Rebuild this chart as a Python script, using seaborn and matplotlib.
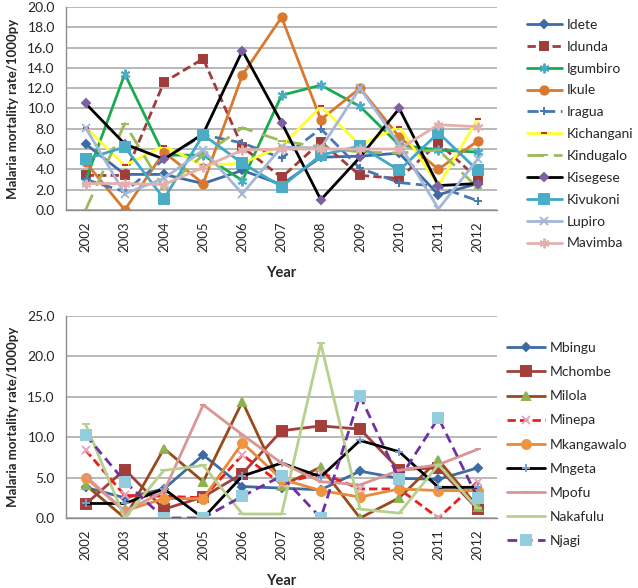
import matplotlib
matplotlib.use("Agg")
import matplotlib.pyplot as plt
import seaborn as sns
from matplotlib.ticker import FixedLocator, FormatStrFormatter

YEARS = list(range(2002, 2013))
YEAR_LABELS = [str(y) for y in YEARS]

# ---- top panel data (deaths / 1000 person-years) ----
TOP_NAMES = ["Idete", "Idunda", "Igumbiro", "Ikule", "Iragua", "Kichangani",
             "Kindugalo", "Kisegese", "Kivukoni", "Lupiro", "Mavimba"]
idete      = [6.5, 3.5, 3.5, 2.6, 3.9, 2.5, 5.2, 5.3, 5.6, 1.5, 2.6]
idunda     = [3.4, 3.4, 12.6, 14.9, 6.2, 3.2, 6.7, 3.4, 3.1, 6.6, 3.1]
igumbiro   = [2.9, 13.4, 5.4, 5.4, 2.9, 11.3, 12.3, 10.2, 6.4, 5.9, 5.7]
ikule      = [4.7, 0.0, 5.7, 2.6, 13.3, 19.0, 8.9, 12.0, 7.2, 4.0, 6.8]
iragua     = [3.0, 1.8, 5.0, 7.4, 6.6, 5.1, 8.0, 4.1, 2.7, 2.3, 0.9]
kichangani = [8.1, 4.4, 6.3, 4.4, 4.6, 6.3, 10.2, 6.4, 8.2, 2.4, 9.0]
kindugalo  = [0.0, 8.5, 2.1, 5.4, 8.1, 6.8, 6.2, 5.7, 5.6, 5.9, 2.2]
kisegese   = [10.5, 6.5, 5.0, 7.5, 15.7, 8.6, 1.0, 5.2, 10.0, 2.4, 2.6]
kivukoni   = [5.0, 6.2, 1.1, 7.4, 4.6, 2.3, 5.4, 6.3, 3.9, 7.6, 3.9]
lupiro     = [8.1, 1.6, 3.1, 5.9, 1.6, 6.2, 6.1, 12.0, 6.5, 0.1, 5.0]
mavimba    = [2.6, 2.6, 2.5, 4.2, 5.9, 6.0, 6.0, 6.0, 6.0, 8.4, 8.2]
TOP_VALUES = [idete, idunda, igumbiro, ikule, iragua, kichangani,
              kindugalo, kisegese, kivukoni, lupiro, mavimba]

# ---- bottom panel data ----
BOTTOM_NAMES = ["Mbingu", "Mchombe", "Milola", "Minepa", "Mkangawalo",
                "Mngeta", "Mpofu", "Nakafulu", "Njagi"]
mbingu     = [3.8, 2.5, 3.6, 7.8, 3.9, 3.7, 3.5, 5.8, 4.9, 4.8, 6.2]
mchombe    = [1.7, 6.0, 1.1, 2.6, 5.5, 10.8, 11.4, 11.0, 6.0, 6.2, 1.1]
milola     = [4.1, 0.0, 8.6, 4.5, 14.4, 4.0, 6.3, 0.0, 2.5, 7.2, 1.4]
minepa     = [8.4, 2.8, 2.7, 2.5, 7.8, 4.2, 5.6, 3.6, 3.6, 0.0, 4.5]
mkangawalo = [5.0, 0.9, 2.4, 2.4, 9.3, 4.8, 3.4, 2.6, 3.6, 3.4, 3.4]
mngeta     = [1.8, 1.8, 3.6, 0.0, 5.2, 6.8, 5.1, 9.6, 8.2, 3.8, 3.8]
mpofu      = [5.2, 0.8, 3.3, 14.0, 10.3, 6.8, 4.5, 4.1, 5.9, 6.6, 8.5]
nakafulu   = [11.6, 0.0, 5.9, 6.5, 0.5, 0.5, 21.6, 1.1, 0.6, 6.6, 1.2]
njagi      = [10.3, 4.5, 0.0, 0.0, 2.7, 5.2, 0.0, 15.1, 4.8, 12.4, 2.5]
BOTTOM_VALUES = [mbingu, mchombe, milola, minepa, mkangawalo,
                 mngeta, mpofu, nakafulu, njagi]

# line colour, line style, marker, marker face, marker edge, marker size
TOP_STYLES = [
    ("#3F6BA5", "-",              "D", "#3F6BA5", "#3F6BA5", 4),
    ("#A03C3A", (0, (3, 1.5)),    "s", "#A03C3A", "#A03C3A", 5.5),
    ("#1AAA50", "-",              (6, 2, 0), "#4BACC6", "#4BACC6", 7),
    ("#D9792F", "-",              "o", "#D9792F", "#D9792F", 6),
    ("#4878B4", (0, (4, 2)),      "+", "#4878B4", "#4878B4", 6),
    ("#FFFF33", "-",              "_", "#C0302C", "#C0302C", 5),
    ("#9BBB59", (0, (6, 3.5)),    "_", "#9BBB59", "#9BBB59", 6),
    ("#000000", "-",              "D", "#7D60A0", "#7D60A0", 4.5),
    ("#3FA8C8", "-",              "s", "#4BACC6", "#4BACC6", 6.5),
    ("#A3B7D6", "-",              "x", "#A3B7D6", "#A3B7D6", 6),
    ("#E3B0AE", "-",              (6, 2, 0), "#E3B0AE", "#E3B0AE", 7),
]
BOTTOM_STYLES = [
    ("#3F6BA5", "-",              "D", "#3F6BA5", "#3F6BA5", 4.5),
    ("#A33E3B", "-",              "s", "#A33E3B", "#A33E3B", 6.5),
    ("#984A1A", "-",              "^", "#8DB350", "#8DB350", 6),
    ("#E8201C", (0, (3, 1.5)),    "x", "#E3A7C0", "#E3A7C0", 5.5),
    ("#E68A3E", "-",              "o", "#F0953F", "#F0953F", 6.5),
    ("#000000", "-",              "+", "#7A9ED0", "#7A9ED0", 6),
    ("#D99694", "-",              "_", "#D99694", "#D99694", 4),
    ("#B7D08E", "-",              "_", "#B7D08E", "#B7D08E", 6),
    ("#7030A0", (0, (3.5, 2)),    "s", "#93CDDD", "#93CDDD", 6.5),
]

sns.set_theme(style="white")
plt.rcParams["font.family"] = ["Lato", "DejaVu Sans"]

GRID = "#A6A6A6"
AXIS = "#8C8C8C"


def draw_panel(ax, names, values, styles, ymax, ystep):
    for name, vals, st in zip(names, values, styles):
        color, ls, marker, mfc, mec, ms = st
        sns.lineplot(x=YEARS, y=vals, ax=ax, label=name, color=color,
                     linestyle=ls, linewidth=2.0, marker=marker,
                     markersize=ms, markerfacecolor=mfc,
                     markeredgecolor=mec, markeredgewidth=1.4, sort=False)
    ax.set_xlim(2001.5, 2012.5)
    ax.set_ylim(0, ymax)
    ax.set_yticks([i * ystep for i in range(int(round(ymax / ystep)) + 1)])
    ax.yaxis.set_major_formatter(FormatStrFormatter("%.1f"))
    ax.set_xticks(YEARS)
    ax.set_xticklabels(YEAR_LABELS, rotation=90)
    ax.xaxis.set_minor_locator(FixedLocator([y + 0.5 for y in range(2001, 2013)]))
    ax.tick_params(axis="x", which="major", length=0, pad=8, labelsize=9.5)
    ax.tick_params(axis="x", which="minor", length=4, width=1, color=AXIS,
                   direction="out")
    ax.tick_params(axis="y", length=4, width=1, color=GRID, direction="out",
                   labelsize=10, pad=4)
    ax.yaxis.grid(True, color=GRID, linewidth=1.1)
    ax.set_axisbelow(True)
    for side in ["top", "right"]:
        ax.spines[side].set_visible(False)
    for side in ["left", "bottom"]:
        ax.spines[side].set_color(AXIS)
        ax.spines[side].set_linewidth(1.0)
    ax.set_xlabel("Year", fontsize=10.5, fontweight="bold", labelpad=10)
    ax.set_ylabel("Malaria mortality rate/1000py", fontsize=9.5,
                  fontweight="bold", labelpad=6)


fig = plt.figure(figsize=(6.38, 5.88), dpi=100)
ax_top = fig.add_axes([0.1034, 0.643, 0.676, 0.345])
ax_bot = fig.add_axes([0.1034, 0.119, 0.676, 0.3436])

draw_panel(ax_top, TOP_NAMES, TOP_VALUES, TOP_STYLES, 20, 2)
draw_panel(ax_bot, BOTTOM_NAMES, BOTTOM_VALUES, BOTTOM_STYLES, 25, 5)

for ax, anchor, hlen, spacing in [(ax_top, (0.826, 0.968), 2.5, 0.71),
                                  (ax_bot, (0.795, 0.418), 2.7, 0.87)]:
    handles, labels = ax.get_legend_handles_labels()
    ax.legend(handles, labels, loc="upper left", bbox_to_anchor=anchor,
              bbox_transform=fig.transFigure, frameon=False, fontsize=10,
              handlelength=hlen, handletextpad=0.35, labelspacing=spacing,
              borderaxespad=0, borderpad=0)

fig.savefig("out.png", dpi=100)
